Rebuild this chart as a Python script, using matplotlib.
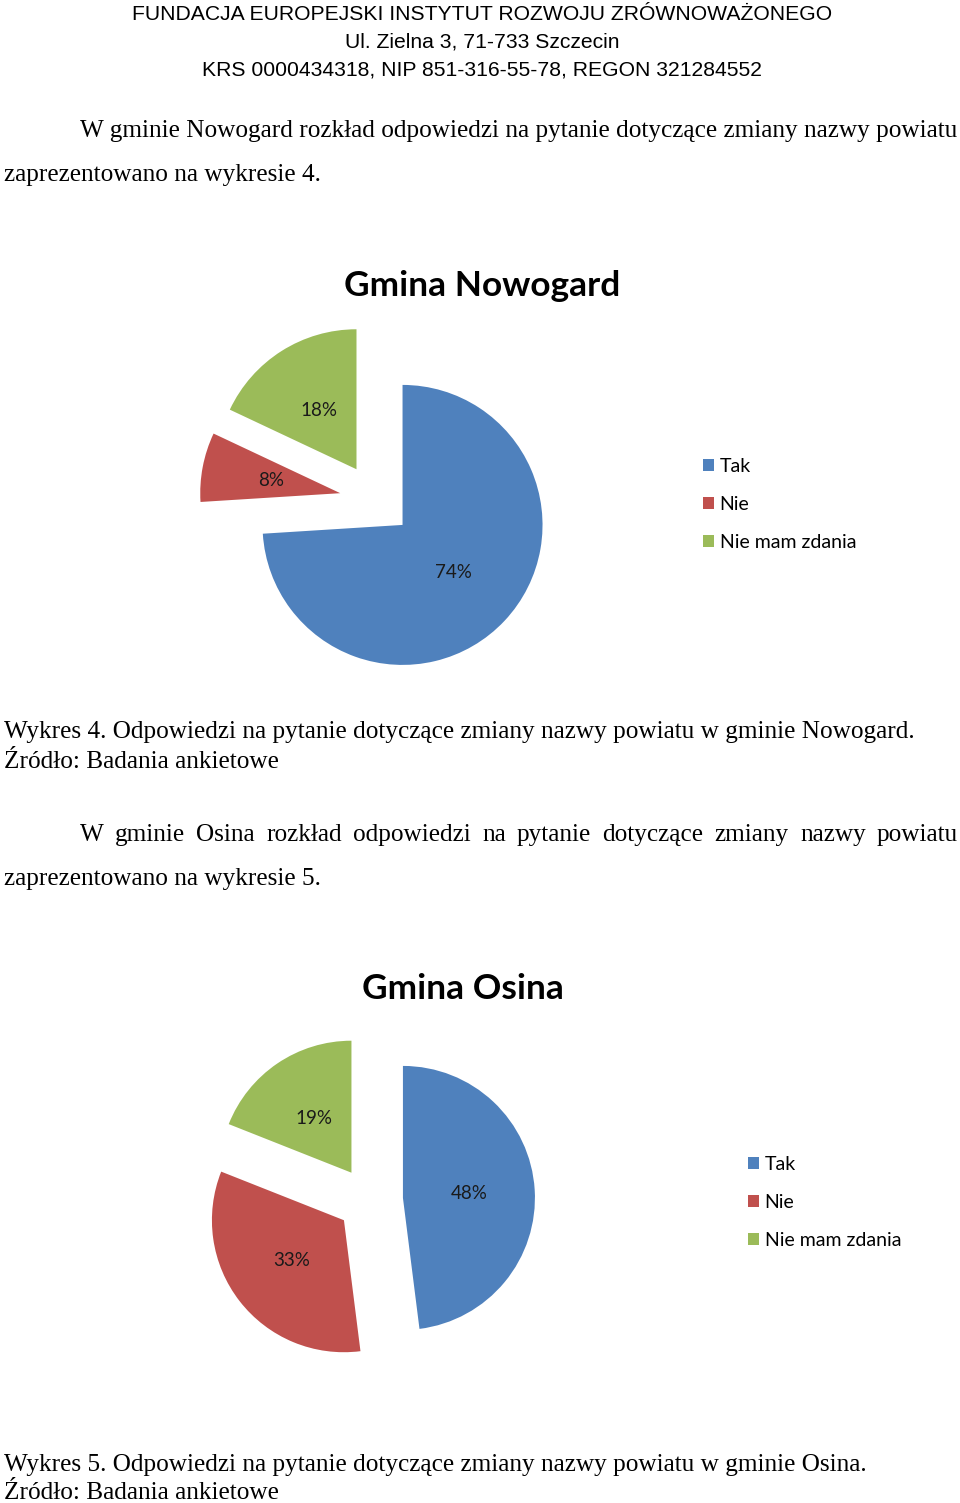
import matplotlib.pyplot as plt

W, H = 960, 1503

# --- data ---
categories = ['Tak', 'Nie', 'Nie mam zdania']
nowogard = [74, 8, 18]
osina = [48, 33, 19]
colors = ['#4F81BD', '#C0504D', '#9BBB59']

header = ['FUNDACJA EUROPEJSKI INSTYTUT ROZWOJU ZRÓWNOWAŻONEGO',
          'Ul. Zielna 3, 71-733 Szczecin',
          'KRS 0000434318, NIP 851-316-55-78, REGON 321284552']

SERIF = ['Liberation Serif', 'DejaVu Serif']
NARROW = ['Liberation Sans Narrow', 'Liberation Sans', 'DejaVu Sans']
CHART = ['Lato', 'DejaVu Sans']
BODY = 18.2

fig = plt.figure(figsize=(W / 100, H / 100), dpi=100)
fig.patch.set_facecolor('white')


def px(x, y):
    return x / W, 1 - y / H


def txt(x, y, s, size, family, ha='left', **kw):
    return fig.text(*px(x, y), s, fontsize=size, family=family, ha=ha,
                    va='center', **kw)


def justified(x0, x1, y, s, size, family):
    words = s.split()
    items = [txt(x0, y, w, size, family) for w in words]
    r = fig.canvas.get_renderer()
    widths = [t.get_window_extent(r).width for t in items]
    gap = (x1 - x0 - sum(widths)) / (len(words) - 1)
    x = x0
    for t, w in zip(items, widths):
        t.set_position(px(x, y))
        x += w + gap


def pie_chart(box, center, r, values, explode, title, tpos, legpos):
    x0, y0, x1, y1 = box
    ax = fig.add_axes([x0 / W, 1 - y1 / H, (x1 - x0) / W, (y1 - y0) / H])
    wedges, _, autotexts = ax.pie(
        values, colors=colors, startangle=90, counterclock=False,
        explode=[explode] * len(values), pctdistance=0.5,
        autopct=lambda p: f'{p:.0f}%',
        textprops=dict(fontsize=13.5, family=CHART, color='#1a1a1a'))
    cx, cy = center
    ax.set_xlim((x0 - cx) / r, (x1 - cx) / r)
    ax.set_ylim((cy - y1) / r, (cy - y0) / r)
    ax.set_aspect('auto')
    ax.axis('off')
    txt(tpos[0], tpos[1], title, 25.4, CHART, ha='center', fontweight='bold')
    fig.legend(wedges, categories, loc='upper left',
               bbox_to_anchor=px(*legpos), frameon=False, borderpad=0,
               borderaxespad=0, handlelength=0.55, handleheight=0.55,
               handletextpad=0.3, labelspacing=1.07,
               prop=dict(family=CHART, size=14))


# header
for i, line in enumerate(header):
    txt(482, 14 + 28 * i, line, 15.2, NARROW, ha='center')

txt(80, 131, 'W gminie Nowogard rozkład odpowiedzi na pytanie dotyczące '
    'zmiany nazwy powiatu', BODY, SERIF)
txt(4, 175, 'zaprezentowano na wykresie 4.', BODY, SERIF)

pie_chart((180, 320, 620, 680), (376, 500), 140, nowogard, 0.26,
          'Gmina Nowogard', (482, 286), (703, 458))

txt(4, 732, 'Wykres 4. Odpowiedzi na pytanie dotyczące zmiany nazwy '
    'powiatu w gminie Nowogard.', BODY, SERIF)
txt(4, 762, 'Źródło: Badania ankietowe', BODY, SERIF)

justified(80, 958, 835, 'W gminie Osina rozkład odpowiedzi na pytanie '
          'dotyczące zmiany nazwy powiatu', BODY, SERIF)
txt(4, 879, 'zaprezentowano na wykresie 5.', BODY, SERIF)

pie_chart((180, 1030, 620, 1370), (370, 1200), 132, osina, 0.25,
          'Gmina Osina', (463, 989), (748, 1156))

txt(4, 1465, 'Wykres 5. Odpowiedzi na pytanie dotyczące zmiany nazwy '
    'powiatu w gminie Osina.', BODY, SERIF)
txt(4, 1493, 'Źródło: Badania ankietowe', BODY, SERIF)

plt.savefig('out.png', dpi=100, facecolor='white')
